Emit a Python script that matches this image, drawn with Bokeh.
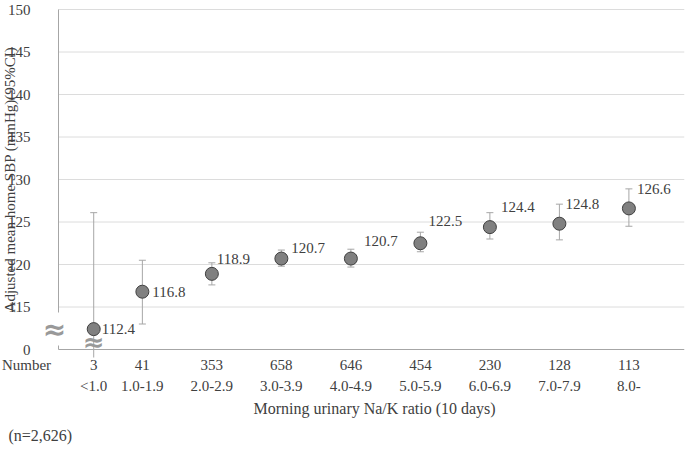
import math
from bokeh.plotting import figure
from bokeh.models import ColumnDataSource, FixedTicker, LinearAxis, Label, Range1d, Title
from bokeh.core.properties import value
from bokeh.embed import file_html
from bokeh.resources import INLINE

# ---- data ----
counts = ["3", "41", "353", "658", "646", "454", "230", "128", "113"]
ratio_groups = ["<1.0", "1.0-1.9", "2.0-2.9", "3.0-3.9", "4.0-4.9",
                "5.0-5.9", "6.0-6.9", "7.0-7.9", "8.0-"]
group_pos = [0.3, 1, 2, 3, 4, 5, 6, 7, 8]
sbp_mean = [112.4, 116.8, 118.9, 120.7, 120.7, 122.5, 124.4, 124.8, 126.6]
ci_lower = [98.7, 113.0, 117.6, 119.8, 119.7, 121.5, 123.0, 122.9, 124.5]
ci_upper = [126.1, 120.5, 120.2, 121.7, 121.8, 123.8, 126.1, 127.1, 128.9]
y_ticks = [110, 115, 120, 125, 130, 135, 140, 145, 150]
y_tick_labels = ["0", "115", "120", "125", "130", "135", "140", "145", "150"]
y_title = "Adjusted mean home SBP (mmHg)(95%CI)"
row_header = "Number"
sample_note = "(n=2,626)"

# ---- layout / style ----
X_AXIS_START, X_END = -0.207, 8.8
X_VIEW_START = -1.041          # room left of the y axis inside the frame
Y_VIEW = (109.06, 151.06)      # small margin round the 110-150 axis so edge labels are not clipped
ROW_HEADER_POS = -0.667
label_dx = [8, 10, 5, 10, 13, 8, 11, 6, 8]
label_dy = [0, 0, -15, -11, -18, -22, -20, -20, -19]
FONT = "Liberation Serif"
TXT = "#404040"
AXC = "#a6a6a6"
GRID = "#dcdcdc"

src = ColumnDataSource(dict(
    x=group_pos, y=sbp_mean, lo=ci_lower, hi=ci_upper,
    lab=[f"{v:.1f}" for v in sbp_mean], dx=label_dx, dy=label_dy,
))

p = figure(width=685, height=450, x_range=Range1d(X_VIEW_START, X_END),
           y_range=Range1d(*Y_VIEW),
           output_backend="svg", toolbar_location=None,
           min_border_left=0, min_border_right=1, min_border_top=0, min_border_bottom=92)
p.outline_line_color = None
p.background_fill_color = "white"
p.border_fill_color = "white"
p.xgrid.visible = False
p.ygrid.visible = False

# grid lines (start at the y axis)
p.segment(x0=[X_AXIS_START] * (len(y_ticks) - 1), x1=[X_END] * (len(y_ticks) - 1),
          y0=y_ticks[1:], y1=y_ticks[1:], line_color=GRID, line_width=1)

# y axis at fixed location
ya = p.yaxis[0]
ya.fixed_location = X_AXIS_START
ya.bounds = (y_ticks[0], y_ticks[-1])
ya.ticker = FixedTicker(ticks=y_ticks)
ya.major_label_overrides = {t: l for t, l in zip(y_ticks, y_tick_labels)}
ya.major_label_text_font = FONT
ya.major_label_text_font_size = "15px"
ya.major_label_text_color = TXT
ya.major_label_standoff = 22
ya.major_tick_line_color = None
ya.minor_tick_line_color = None
ya.axis_line_color = AXC

# y axis title (rotated text at the left edge, centred on the axis span)
p.text(x=[X_VIEW_START], y=[(y_ticks[0] + y_ticks[-1]) / 2], text=[y_title],
       x_offset=9, angle=math.pi / 2,
       text_font=value(FONT), text_font_size="15px", text_color=TXT,
       text_align="center", text_baseline="middle")

# x axis 1: counts (with row header)
xa = p.xaxis[0]
xa.ticker = FixedTicker(ticks=[ROW_HEADER_POS] + group_pos)
xa.major_label_overrides = {t: l for t, l in zip([ROW_HEADER_POS] + group_pos, [row_header] + counts)}
xa.major_label_text_font = FONT
xa.major_label_text_font_size = "15px"
xa.major_label_text_color = TXT
xa.major_label_standoff = -7
xa.major_tick_line_color = None
xa.minor_tick_line_color = None
xa.axis_line_color = None

# x axis line (bounded, from the y axis to the right edge)
xline = LinearAxis(fixed_location=y_ticks[0], bounds=(X_AXIS_START, X_END),
                   ticker=FixedTicker(ticks=[]), axis_line_color=AXC,
                   major_tick_line_color=None, minor_tick_line_color=None,
                   major_label_text_alpha=0)
p.add_layout(xline, "below")

# x axis 2: ratio groups
xa2 = LinearAxis(ticker=FixedTicker(ticks=group_pos))
xa2.major_label_overrides = {t: l for t, l in zip(group_pos, ratio_groups)}
xa2.major_label_text_font = FONT
xa2.major_label_text_font_size = "15px"
xa2.major_label_text_color = TXT
xa2.major_label_standoff = -4
xa2.major_tick_line_color = None
xa2.minor_tick_line_color = None
xa2.axis_line_color = None
p.add_layout(xa2, "below")

# x title and note as titles below
p.add_layout(Title(text="Morning urinary Na/K ratio (10 days)", align="left", offset=253,
                   text_font=FONT, text_font_size="16px", text_font_style="normal",
                   text_color=TXT, standoff=2), "below")
p.add_layout(Title(text=sample_note, align="left", offset=8,
                   text_font=FONT, text_font_size="16px", text_font_style="normal",
                   text_color=TXT, standoff=14), "below")

# error bars
p.segment(x0="x", y0="lo", x1="x", y1="hi", source=src, line_color=AXC, line_width=1)
p.scatter(x="x", y="hi", source=src, marker="dash", size=7, line_color=AXC, line_width=1)
p.scatter(x="x", y="lo", source=src, marker="dash", size=7, line_color=AXC, line_width=1)

# points
p.scatter(x="x", y="y", source=src, marker="circle", size=13,
          fill_color="#808080", line_color="#404040", line_width=1)

# data labels
p.text(x="x", y="y", text="lab", source=src, x_offset="dx", y_offset="dy",
       text_font=value(FONT), text_font_size="15px", text_color=TXT,
       text_align="left", text_baseline="middle")

# axis break marks
p.add_layout(Label(x=X_AXIS_START, y=sbp_mean[0], x_offset=-4, x_units="data", y_units="data", text="≈",
                   text_font="DejaVu Sans", text_font_size="28px", text_font_style="bold",
                   text_color="#999999", text_align="center", text_baseline="middle",
                   background_fill_color="white"))
p.add_layout(Label(x=group_pos[0], y=y_ticks[0], y_offset=8, x_units="data", y_units="data", text="≈",
                   text_font="DejaVu Sans", text_font_size="26px", text_font_style="bold",
                   text_color="#999999", text_align="center", text_baseline="middle"))

open("out.html", "w").write(file_html(p, INLINE))
